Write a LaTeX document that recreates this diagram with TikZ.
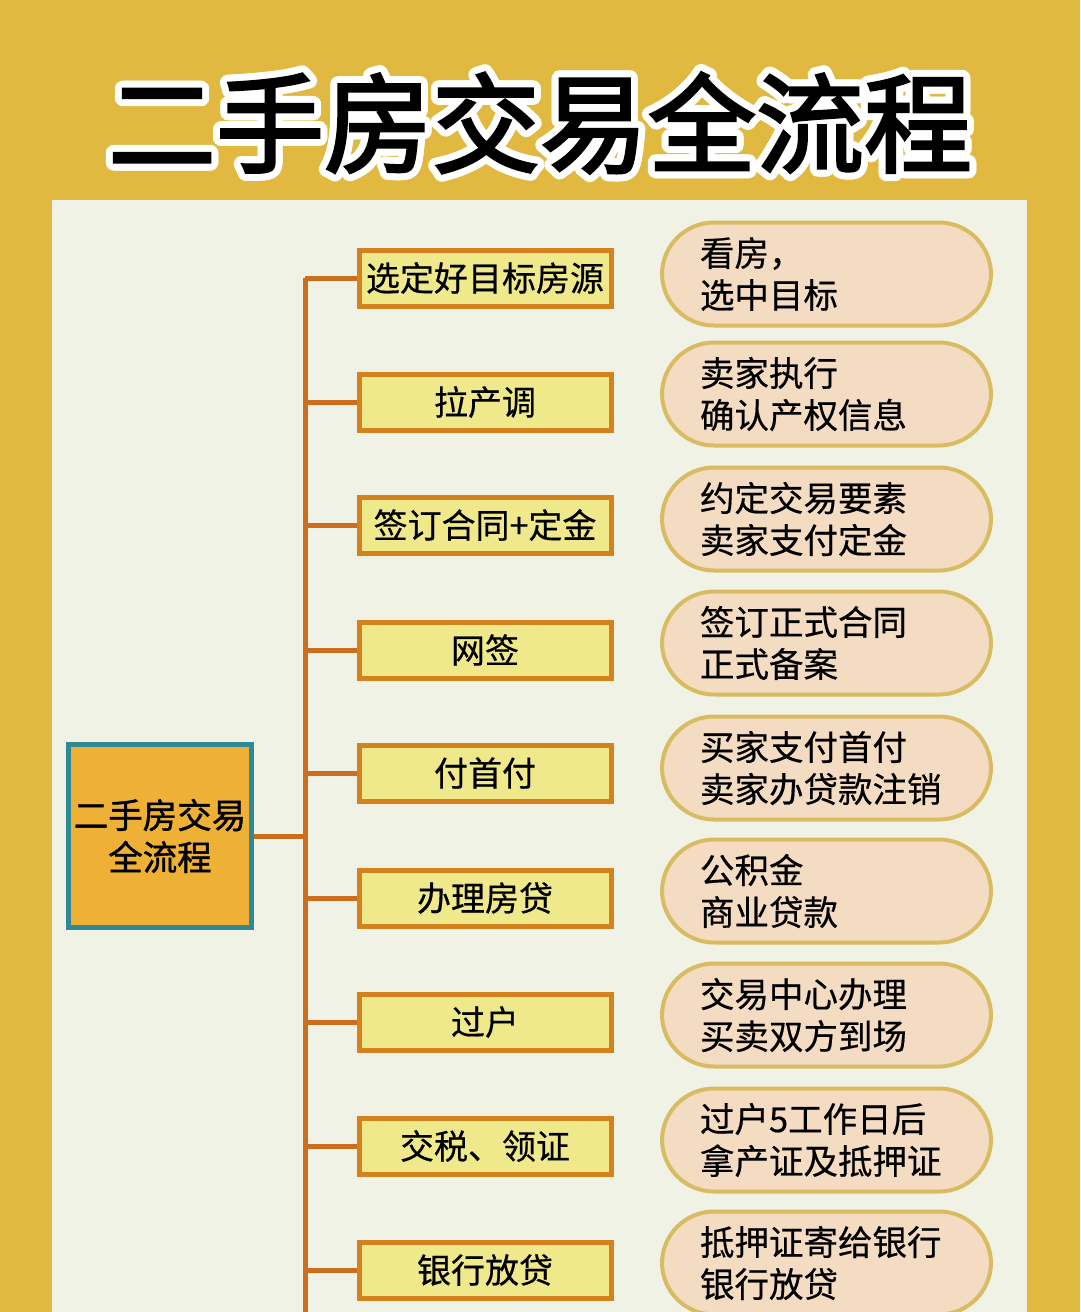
\documentclass[tikz,border=0pt]{standalone}
\usepackage{fontspec}
\newfontfamily\cjk{Noto Sans CJK SC}[FakeBold=0.5]
\newfontfamily\cjkheavy{Noto Sans CJK SC}[FakeBold=2.5]
\newfontfamily\cjkbold{Noto Sans CJK SC}[FakeBold=1.2]
\definecolor{bggold}{HTML}{E1B940}
\definecolor{panel}{HTML}{F0F2E6}
\definecolor{trunkc}{HTML}{CC6E1E}
\definecolor{stepfill}{HTML}{F0E98C}
\definecolor{stepdraw}{HTML}{D4821E}
\definecolor{pillfill}{HTML}{F3DCC2}
\definecolor{pilldraw}{HTML}{D9BC62}
\definecolor{mainfill}{HTML}{EFB135}
\definecolor{maindraw}{HTML}{2F8A95}
\tikzset{
  trunk/.style={draw=trunkc, line width=5pt},
  stepbox/.style={draw=stepdraw, fill=stepfill, line width=5pt, minimum width=252pt, minimum height=56pt, inner sep=0pt, font=\cjk\fontsize{34}{38}\selectfont},
  pill/.style={draw=pilldraw, fill=pillfill, line width=4pt, rounded corners=52pt, minimum height=103pt, text width=253pt, inner xsep=38pt, inner ysep=0pt, align=left, font=\cjk\fontsize{34.5}{42}\selectfont},
  mainbox/.style={draw=maindraw, fill=mainfill, line width=5pt, minimum width=183pt, minimum height=183pt, inner sep=0pt, align=center, font=\cjkbold\fontsize{34.5}{42}\selectfont},
  titleout/.style={text=white, font=\cjkheavy\fontsize{108}{110}\selectfont, inner sep=0pt},
  titletxt/.style={text=black, font=\cjkheavy\fontsize{108}{110}\selectfont, inner sep=0pt}
}
\begin{document}
\begin{tikzpicture}[x=1pt,y=-1pt]
\fill[bggold] (0,0) rectangle (1080,1312);
\useasboundingbox (0,0) rectangle (1080,1312);
\fill[panel] (52,200) rectangle (1027,1312);
% title with white outline
\foreach \a in {0,15,...,345} {
  \node[titleout, shift={(\a:7)}] (tout\a) at (540,123) {二手房交易全流程};
}
\node[titletxt] (title) at (540,123) {二手房交易全流程};
% trunk
\coordinate (ttop) at (305,278);
\coordinate (tbot) at (305,1312);
\draw[trunk] (ttop) -- (tbot);
% main box
\node[mainbox] (main) at (160,836) {二手房交易\\全流程};
\draw[trunk] (main.east) -- (main.east -| ttop);
% steps
\foreach \i/\y/\t in {1/278/选定好目标房源,2/402/拉产调,3/525/签订合同+定金,4/650/网签,5/773/付首付,6/898/办理房贷,7/1022/过户,8/1146/交税、领证,9/1270/银行放贷} {
  \node[stepbox] (s\i) at (485,\y) {\t};
  \draw[trunk] (s\i.west) -- (s\i.west -| ttop);
}
% pills
\foreach \i/\y/\a/\b in {1/274/看房，/选中目标,2/394/卖家执行/确认产权信息,3/519/约定交易要素/卖家支付定金,4/643/签订正式合同/正式备案,5/768/买家支付首付/卖家办贷款注销,6/891/公积金/商业贷款,7/1015/交易中心办理/买卖双方到场,8/1140/过户5工作日后/拿产证及抵押证,9/1263/抵押证寄给银行/银行放贷} {
  \node[pill] (p\i) at (826.5,\y) {\a\\\b};
}
\end{tikzpicture}
\end{document}
